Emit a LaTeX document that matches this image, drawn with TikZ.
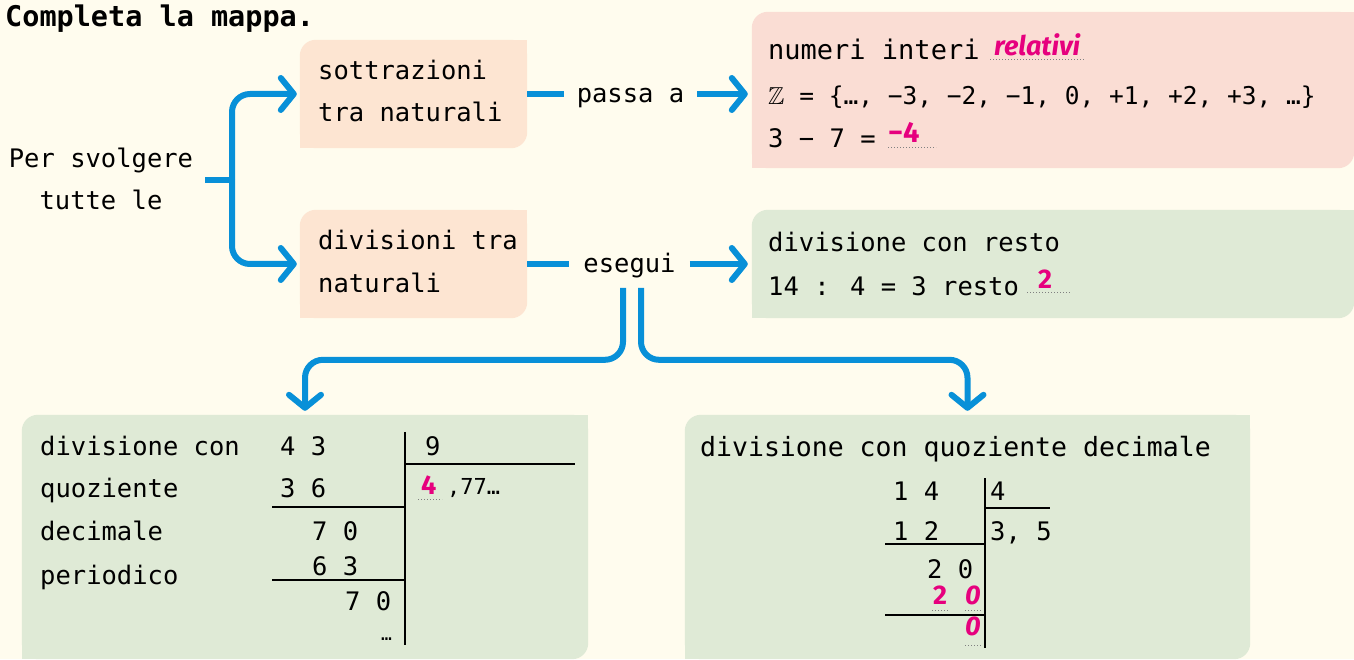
\documentclass[tikz,border=0pt]{standalone}
\usepackage{fontspec}
\usepackage{amssymb}
\setmainfont{DejaVu Sans Mono}
\newfontfamily\hand{Fira Sans}
\usetikzlibrary{arrows.meta,calc}
\definecolor{bg}{RGB}{255,252,238}
\definecolor{peach}{RGB}{253,229,210}
\definecolor{rose}{RGB}{250,221,212}
\definecolor{sage}{RGB}{223,234,214}
\definecolor{arrowblue}{RGB}{8,144,216}
\definecolor{mag}{RGB}{230,0,126}
\newcommand\cornerbox[2]{%
  \fill[#2,rounded corners=16pt] (#1.south west) rectangle (#1.north east);
  \fill[#2] (#1.north east) rectangle ++(-24,-24);
  \fill[#2] (#1.south west) rectangle ++(24,24);}
\begin{document}
\begin{tikzpicture}[x=1pt,y=1pt,
  every node/.style={inner sep=0pt, font=\fontsize{25.5}{30}\selectfont},
  txt/.style={anchor=base west},
  link/.style={draw=arrowblue, line width=6pt},
  linkarrow/.style={link, -{Straight Barb[length=13pt,width=32pt,round]}},
  ans/.style={anchor=base west, text=mag, font=\fontsize{27}{30}\selectfont\hand\bfseries},
  dots/.style={draw=gray, dotted, line width=1pt},
  rule/.style={draw=black, line width=1.3pt}]
\fill[bg] (0,0) rectangle (1354,659);
\useasboundingbox (0,0) rectangle (1354,659);
% boxes
\node[minimum width=227pt, minimum height=108pt] (sott) at (413.5,565) {};
\node[minimum width=227pt, minimum height=108pt] (divn) at (413.5,395) {};
\node[minimum width=602pt, minimum height=156pt] (rel) at (1053,569) {};
\node[minimum width=602pt, minimum height=108pt] (resto) at (1053,395) {};
\node[minimum width=566pt, minimum height=244pt] (per) at (305,122) {};
\node[minimum width=565pt, minimum height=244pt] (dec) at (967.5,122) {};
\cornerbox{sott}{peach}
\cornerbox{divn}{peach}
\cornerbox{rel}{rose}
\cornerbox{resto}{sage}
\cornerbox{per}{sage}
\cornerbox{dec}{sage}
% title
\node[txt, font=\fontsize{28.5}{30}\selectfont\bfseries] (title) at (5,632) {Completa la mappa.};
% left text
\node[anchor=base] (ps1) at (101,491) {Per svolgere};
\node[anchor=base] (ps2) at (101,449) {tutte le};
\node[txt] (s1) at (318,579) {sottrazioni};
\node[txt] (s2) at (318,537) {tra naturali};
\node[txt] (d1) at (318,409) {divisioni tra};
\node[txt] (d2) at (318,366) {naturali};
\node[anchor=base, inner xsep=13pt] (passa) at (630.5,556) {passa a};
\node[anchor=base, inner xsep=14pt] (esegui) at (629.5,386) {esegui};
% pink box
\node[txt, font=\fontsize{27}{30}\selectfont] (r1) at (768,599) {numeri interi};
\node[txt, font=\fontsize{24.5}{30}\selectfont] (r2) at (768,554) {$\mathbb{Z}$ = \{…, −3, −2, −1, 0, +1, +2, +3, …\}};
\node[txt] (r3) at (768,511) {3 − 7 =};
\node[ans, font=\fontsize{27}{30}\selectfont\hand\bfseries\itshape] (relativi) at (994,603) {relativi};
\draw[dots] (990,599) -- (1085,599);
\node[ans, font=\fontsize{29}{30}\selectfont\hand\bfseries] (m4) at (888,516) {−4};
\draw[dots] (888,511) -- (936,511);
% resto box
\node[txt] (t1) at (768,407) {divisione con resto};
\node[txt] (t2) at (768,363) {14 : 4 = 3 resto};
\node[ans] (a2) at (1038,370) {2};
\draw[dots] (1027,366) -- (1070,366);
% periodic box
\node[txt] (p1) at (40,204) {divisione con};
\node[txt] (p2) at (40,162) {quoziente};
\node[txt] (p3) at (40,119) {decimale};
\node[txt] (p4) at (40,75) {periodico};
\node[txt] (q1) at (280,204) {4 3};
\node[txt] (q2) at (280,162) {3 6};
\node[txt] (q3) at (312,119) {7 0};
\node[txt] (q4) at (312,84) {6 3};
\node[txt] (q5) at (345,49) {7 0};
\node[txt, font=\fontsize{18}{20}\selectfont] (q6) at (381,19) {…};
\node[txt] (q7) at (425,204) {9};
\draw[rule] (405,227) -- (405,14);
\draw[rule] (405,195) -- (575,195);
\draw[rule] (272,152) -- (405,152);
\draw[rule] (272,79) -- (405,79);
\node[ans] (q8) at (421,165) {4};
\draw[dots] (418,160) -- (442,160);
\node[txt, font=\fontsize{22}{24}\selectfont] (q9) at (447,165) {,77…};
% decimal box
\node[txt, font=\fontsize{26.5}{30}\selectfont] (e1) at (700,202) {divisione con quoziente decimale};
\node[txt] (f1) at (893,159) {1 4};
\node[txt] (f2) at (990,159) {4};
\node[txt] (f3) at (893,119) {1 2};
\node[txt] (f4) at (990,119) {3, 5};
\node[txt] (f5) at (927,81) {2 0};
\node[ans] (f6) at (933,55) {2};
\node[ans, font=\fontsize{27}{30}\selectfont\hand\bfseries\itshape] (f7) at (965,55) {0};
\node[ans, font=\fontsize{27}{30}\selectfont\hand\bfseries\itshape] (f8) at (965,24) {0};
\draw[dots] (932,49) -- (948,49);
\draw[dots] (965,49) -- (982,49);
\draw[dots] (965,14) -- (982,14);
\draw[rule] (985,181) -- (985,11);
\draw[rule] (985,151) -- (1050,151);
\draw[rule] (885,115) -- (985,115);
\draw[rule] (885,44) -- (985,44);
% connectors
\coordinate (forkstart) at (205,479);
\coordinate (fork) at (232,479);
\draw[link] (forkstart) -- (fork);
\draw[linkarrow, rounded corners=18pt] (fork) |- ([xshift=-3pt]sott.west);
\draw[linkarrow, rounded corners=18pt] (fork) |- ([xshift=-3pt]divn.west);
\draw[link] (sott.east) -- (sott.east -| passa.west);
\draw[linkarrow] (sott.east -| passa.east) -- ([xshift=-4pt]sott.east -| rel.west);
\draw[link] (divn.east) -- (divn.east -| esegui.west);
\draw[linkarrow] (divn.east -| esegui.east) -- ([xshift=-4pt]divn.east -| resto.west);
\coordinate (esL) at (623,371);
\coordinate (esR) at (641,371);
\draw[linkarrow, rounded corners=18pt] (esL) |- ([yshift=55pt]per.north) -- ([yshift=4pt]per.north);
\draw[linkarrow, rounded corners=18pt] (esR) |- ([yshift=55pt]dec.north) -- ([yshift=4pt]dec.north);
\end{tikzpicture}
\end{document}
